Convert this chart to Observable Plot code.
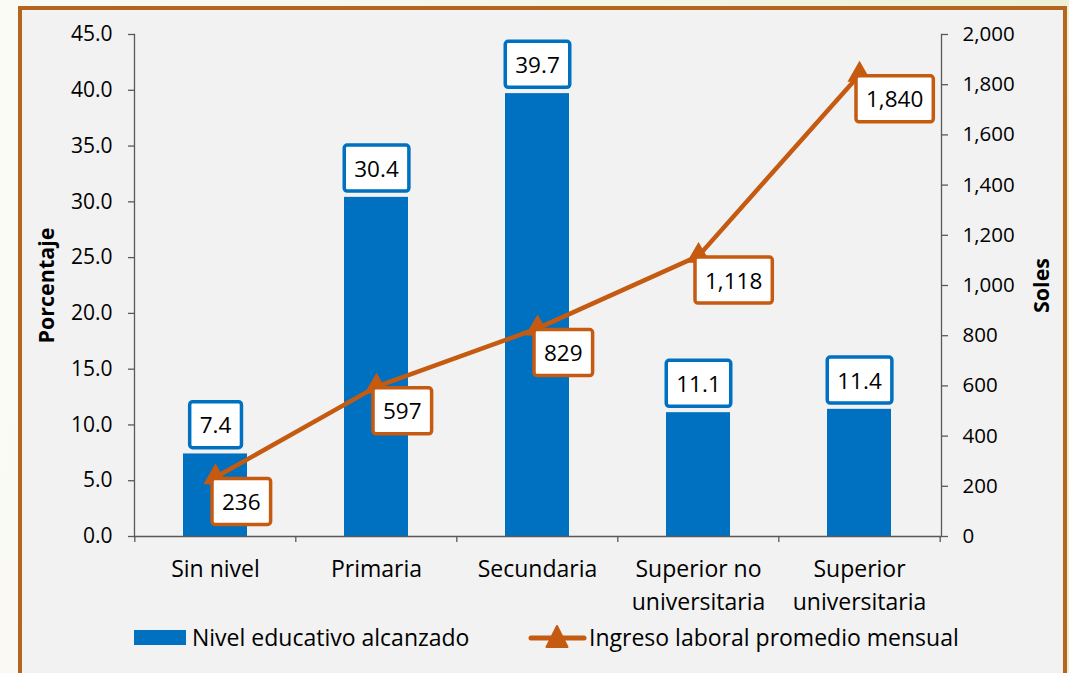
<!DOCTYPE html>
<html>
<head>
<meta charset="utf-8">
<script src="https://cdn.jsdelivr.net/npm/d3@7"></script>
<script src="https://cdn.jsdelivr.net/npm/@observablehq/plot@0.6"></script>
<style>
  html, body { margin: 0; padding: 0; }
  body {
    width: 1069px; height: 673px; overflow: hidden; position: relative;
    background: linear-gradient(100deg, #fbfbf6 0%, #f4f5e6 55%, #eceed2 100%);
    font-family: "Open Sans", sans-serif;
  }
  #frame {
    position: absolute; left: 18px; top: 6px;
    width: 1041px; height: 720px;
    border: 4px solid #b4651f;
    background: #f2f2f2;
  }
  #chart { position: absolute; left: 0; top: 0; }
  .legend-item {
    position: absolute; top: 612px; height: 30px;
    display: flex; align-items: center;
    font-size: 23px; color: #000; white-space: nowrap;
  }
</style>
</head>
<body>
<div id="frame">
  <div id="chart"></div>
  <div class="legend-item" style="left:112px">
    <span style="display:inline-block;width:52px;height:15px;background:#0070c0;margin-right:6px"></span>
    <span>Nivel educativo alcanzado</span>
  </div>
  <div class="legend-item" style="left:507px">
    <svg width="57" height="26" style="margin-right:3px;overflow:visible">
      <line x1="2" y1="14" x2="55" y2="14" stroke="#c55a11" stroke-width="5" stroke-linecap="round"></line>
      <path d="M28,2 L38.5,23 L17.5,23 Z" fill="#c55a11" stroke="#c55a11" stroke-width="2" stroke-linejoin="round"></path>
    </svg>
    <span>Ingreso laboral promedio mensual</span>
  </div>
</div>
<script>
// ---- Data ----
const categories = ["Sin nivel", "Primaria", "Secundaria", "Superior no\nuniversitaria", "Superior\nuniversitaria"];
const porcentaje = [7.4, 30.4, 39.7, 11.1, 11.4];
const ingreso = [236, 597, 829, 1118, 1840];
const leftTicks = [0, 5, 10, 15, 20, 25, 30, 35, 40, 45];
const rightTicks = [0, 200, 400, 600, 800, 1000, 1200, 1400, 1600, 1800, 2000];
const leftMax = 45;
const rightMax = 2000;

// ---- Layout ----
const W = 1041, H = 600;
const mL = 112, mR = 122, mT = 24, mB = 74;
const step = (W - mL - mR) / categories.length;

const toLeft = v => v * leftMax / rightMax;
const rows = categories.map((c, i) => ({cat: c, pct: porcentaje[i], soles: ingreso[i], solesY: toLeft(ingreso[i])}));

const blue = "#0070c0", orange = "#c55a11", axisColor = "#595959";
const fmtPct = d3.format(".1f"), fmtSoles = d3.format(",");

const chart = Plot.plot({
  width: W, height: H,
  marginLeft: mL, marginRight: mR, marginTop: mT, marginBottom: mB,
  style: {fontFamily: "'Open Sans', sans-serif", background: "transparent", color: "#000", overflow: "visible"},
  x: {domain: categories, paddingInner: 0.6, paddingOuter: 0.3},
  y: {domain: [0, leftMax]},
  marks: [
    Plot.barY(rows, {x: "cat", y: "pct", fill: blue}),
    Plot.ruleY([0], {stroke: axisColor, strokeWidth: 1.3}),
    Plot.ruleX(categories, {x: d => d, y1: 0, y2: 0, dx: -step / 2, insetBottom: -6, stroke: axisColor, strokeWidth: 1.3}),
    Plot.ruleX([categories[categories.length - 1]], {x: d => d, y1: 0, y2: 0, dx: step / 2, insetBottom: -6, stroke: axisColor, strokeWidth: 1.3}),
    Plot.frame({anchor: "left", stroke: axisColor, strokeWidth: 1.3}),
    Plot.frame({anchor: "right", stroke: axisColor, strokeWidth: 1.3}),
    Plot.axisY({ticks: leftTicks, tickFormat: fmtPct, tickSize: 6, tickPadding: 16, fontSize: 21, label: null, stroke: axisColor, strokeWidth: 1.3}),
    Plot.axisY({ticks: rightTicks.map(toLeft), anchor: "right", tickFormat: d => fmtSoles(Math.round(d * rightMax / leftMax)), tickSize: 6, tickPadding: 15, fontSize: 20.5, label: null, stroke: axisColor, strokeWidth: 1.3}),
    Plot.axisX({tickSize: 0, tickPadding: 18, fontSize: 23, lineHeight: 1.4, label: null}),
    Plot.text(["Porcentaje"], {frameAnchor: "left", textAnchor: "middle", rotate: -90, dx: -87, fontSize: 21.5, fontWeight: "bold", fill: "#000"}),
    Plot.text(["Soles"], {frameAnchor: "right", textAnchor: "middle", rotate: -90, dx: 101, fontSize: 21.5, fontWeight: "bold", fill: "#000"}),
    Plot.text(rows, {x: "cat", y: "pct", text: d => fmtPct(d.pct), dy: -28, fontSize: 22.5, fill: "#000", className: "bar-labels"}),
    Plot.line(rows, {x: "cat", y: "solesY", stroke: orange, strokeWidth: 4.5}),
    Plot.dot(rows, {x: "cat", y: "solesY", symbol: "triangle", r: 8, fill: orange, stroke: orange, strokeWidth: 1.5}),
    Plot.text(rows, {x: "cat", y: "solesY", text: d => fmtSoles(d.soles), textAnchor: "start", dx: 6.5, dy: 25.5, fontSize: 22.5, fill: "#000", className: "line-labels"})
  ]
});
document.getElementById("chart").appendChild(chart);

// boxes behind data labels
function boxLabels(cls, texts, color) {
  let sel = d3.select(chart).selectAll(`.${cls} text`);
  if (sel.empty()) sel = d3.selectAll(texts);
  sel.each(function() {
    const b = this.getBBox();
    const padX = 10, padY = 7.5;
    const r = document.createElementNS("http://www.w3.org/2000/svg", "rect");
    r.setAttribute("x", b.x - padX);
    r.setAttribute("y", b.y - padY);
    r.setAttribute("width", b.width + 2 * padX);
    r.setAttribute("height", b.height + 2 * padY);
    r.setAttribute("rx", 3);
    r.setAttribute("fill", "#fff");
    r.setAttribute("stroke", color);
    r.setAttribute("stroke-width", 3.5);
    const t = this.getAttribute("transform");
    if (t) r.setAttribute("transform", t);
    this.parentNode.insertBefore(r, this);
  });
}
// fallback: identify label texts by content if className is unsupported
const allTexts = Array.from(chart.querySelectorAll("g[aria-label='text'] text"));
const barTexts = allTexts.filter(t => porcentaje.map(fmtPct).includes(t.textContent));
const lineTexts = allTexts.filter(t => ingreso.map(fmtSoles).includes(t.textContent));
boxLabels("bar-labels", barTexts, blue);
boxLabels("line-labels", lineTexts, orange);
</script>
</body>
</html>
